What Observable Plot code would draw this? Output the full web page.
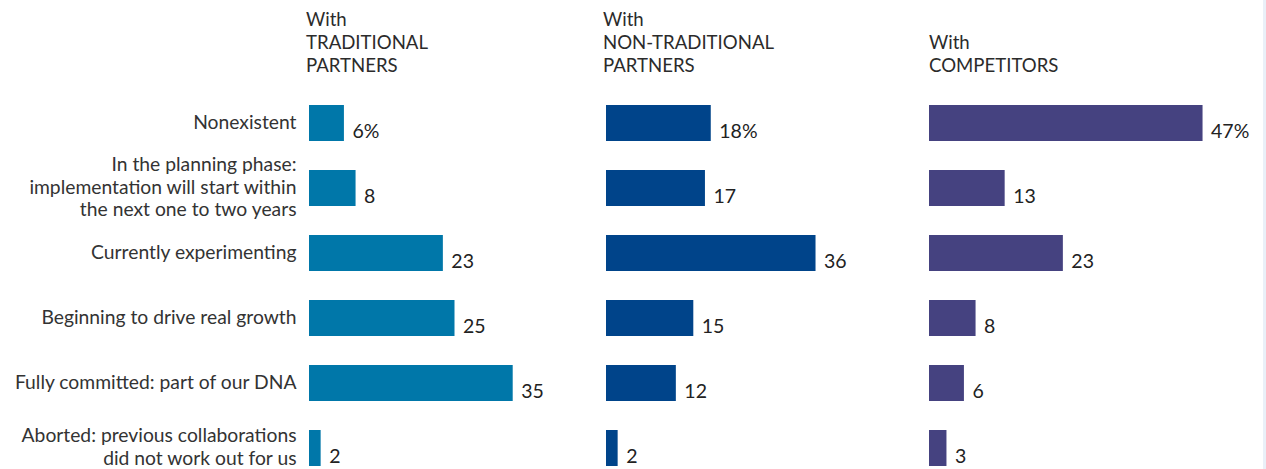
<!DOCTYPE html>
<html><head><meta charset="utf-8">
<script src="https://cdn.jsdelivr.net/npm/d3@7"></script>
<script src="https://cdn.jsdelivr.net/npm/@observablehq/plot@0.6"></script>
<style>
body{margin:0;background:#fff;font-family:Lato,sans-serif;}
#wrap{position:relative;width:1266px;height:469px;overflow:hidden;background:#fff;}
.hdr{position:absolute;font-size:18.6px;line-height:23px;color:#2b2b2b;white-space:pre;font-weight:400;}
.col{position:absolute;top:0;}
#edge{position:absolute;right:0;top:0;width:3px;height:469px;background:#eaf0f8;}
</style></head><body><div id="wrap"><div id="edge"></div></div>
<script>
const categories = [
  "Nonexistent",
  "In the planning phase:\nimplementation will start within\nthe next one to two years",
  "Currently experimenting",
  "Beginning to drive real growth",
  "Fully committed: part of our DNA",
  "Aborted: previous collaborations\ndid not work out for us"
];
const groups = ["With\nTRADITIONAL\nPARTNERS", "With\nNON-TRADITIONAL\nPARTNERS", "With\nCOMPETITORS"];
const traditional = [6, 8, 23, 25, 35, 2];
const nonTraditional = [18, 17, 36, 15, 12, 2];
const competitors = [47, 13, 23, 8, 6, 3];
const series = [traditional, nonTraditional, competitors];
const colors = ["#0077a9", "#00448a", "#454280"];

const layout = [
  {left: 0, marginLeft: 309, width: 600, hdrLeft: 306},
  {left: 606, marginLeft: 0, width: 300, hdrLeft: 603},
  {left: 929, marginLeft: 0, width: 337, hdrLeft: 929}
];
const range = 291;
const wrap = document.getElementById("wrap");

series.forEach((vals, gi) => {
  const L = layout[gi];
  const data = categories.map((c, i) => ({category: c, value: vals[i], label: i === 0 ? vals[i] + "%" : String(vals[i])}));
  const marks = [
    Plot.barX(data, {x: "value", y: "category", fill: colors[gi]}),
    Plot.text(data, {x: "value", y: "category", text: "label", dx: 8, dy: 8, textAnchor: "start", fontSize: 19.5, fill: "#222"})
  ];
  if (gi === 0) marks.unshift(Plot.axisY({tickSize: 0, tickPadding: 13, fontSize: 19.3, lineHeight: 1.17, dy: -2, label: null}));
  const chart = Plot.plot({
    width: L.width,
    height: 469,
    marginLeft: L.marginLeft,
    marginRight: L.width - L.marginLeft - range,
    marginTop: 105,
    marginBottom: 3,
    x: {domain: [0, 50], axis: null},
    y: {domain: categories, paddingInner: 29 / 65, paddingOuter: 0, axis: null},
    style: {fontFamily: "Lato, sans-serif", color: "#333", background: "transparent", overflow: "visible"},
    marks
  });
  const div = document.createElement("div");
  div.className = "col";
  div.style.left = L.left + "px";
  div.appendChild(chart);
  wrap.appendChild(div);

  const lines = groups[gi].split("\n").length;
  const h = document.createElement("div");
  h.className = "hdr";
  h.textContent = groups[gi];
  h.style.left = L.hdrLeft + "px";
  h.style.top = (77 - lines * 23) + "px";
  wrap.appendChild(h);
});
</script>
</body></html>
